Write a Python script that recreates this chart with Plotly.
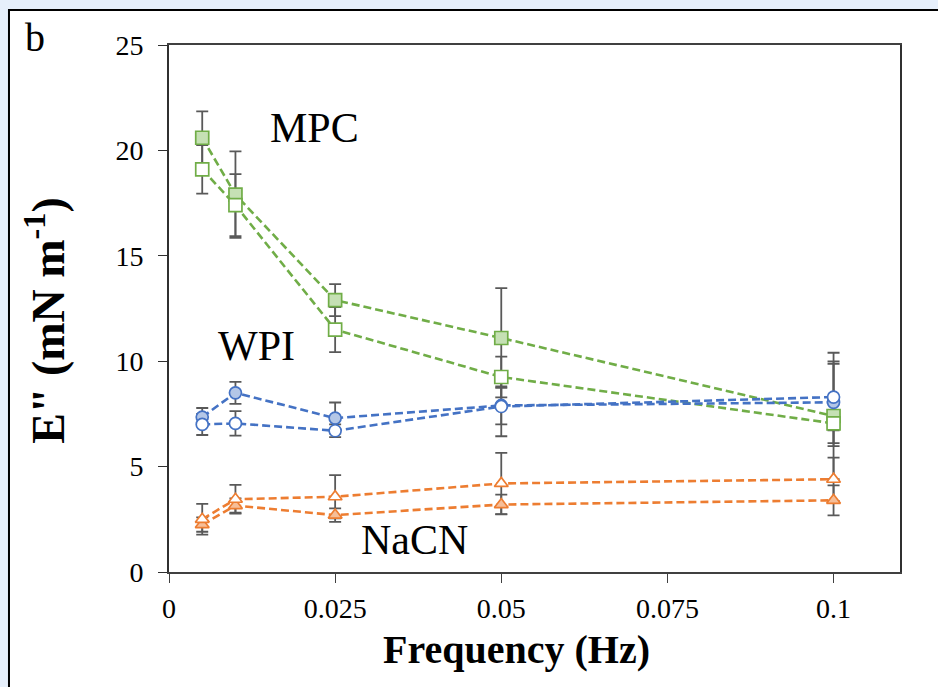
import plotly.graph_objects as go

# Oscillation frequency (Hz)
freq = [0.005, 0.01, 0.025, 0.05, 0.1]

# Loss modulus E'' (mN/m) and standard deviations, two replicates per protein
mpc_filled = [20.6, 17.9, 12.9, 11.1, 7.4]
mpc_filled_sd = [1.25, 2.05, 0.76, 2.37, 3.0]
mpc_open = [19.1, 17.4, 11.5, 9.25, 7.05]
mpc_open_sd = [1.15, 1.47, 1.07, 0.97, 1.08]

wpi_filled = [7.35, 8.5, 7.3, 7.9, 8.05]
wpi_filled_sd = [0.43, 0.52, 0.74, 0.9, 1.94]
wpi_open = [7.0, 7.05, 6.7, 7.85, 8.3]
wpi_open_sd = [0.5, 0.58, 0.3, 1.41, 1.58]

nacn_filled = [2.25, 3.15, 2.7, 3.2, 3.4]
nacn_filled_sd = [0.34, 0.34, 0.32, 0.47, 0.71]
nacn_open = [2.5, 3.45, 3.57, 4.2, 4.4]
nacn_open_sd = [0.73, 0.68, 1.03, 1.45, 1.03]

x_ticks = [0, 0.025, 0.05, 0.075, 0.1]
x_tick_text = ["0", "0.025", "0.05", "0.075", "0.1"]
y_ticks = [0, 5, 10, 15, 20, 25]

GREEN, GREEN_FILL = "#70AD47", "#C5E0B4"
BLUE, BLUE_FILL = "#4472C4", "#B4C7E7"
ORANGE, ORANGE_FILL = "#ED7D31", "#F6BE98"
ERR = "#595959"
SERIF = "Liberation Serif"

series = [
    (mpc_filled, mpc_filled_sd, GREEN, GREEN_FILL, "square", 13),
    (mpc_open, mpc_open_sd, GREEN, "white", "square", 13),
    (wpi_filled, wpi_filled_sd, BLUE, BLUE_FILL, "circle", 12),
    (wpi_open, wpi_open_sd, BLUE, "white", "circle", 12),
    (nacn_filled, nacn_filled_sd, ORANGE, ORANGE_FILL, "triangle-up", 12),
    (nacn_open, nacn_open_sd, ORANGE, "white", "triangle-up", 12),
]

fig = go.Figure()

# error bars first so every marker sits on top of them
for y, sd, *_ in series:
    fig.add_trace(go.Scatter(
        x=freq, y=y, mode="markers",
        marker=dict(size=1, color="rgba(0,0,0,0)"),
        error_y=dict(type="data", array=sd, visible=True,
                     color=ERR, thickness=1.8, width=6),
        hoverinfo="skip", showlegend=False,
    ))

for y, sd, line_col, fill_col, symbol, size in series:
    fig.add_trace(go.Scatter(
        x=freq, y=y, mode="lines+markers",
        line=dict(color=line_col, width=2.6, dash="8px,4px"),
        marker=dict(symbol=symbol, size=size, color=fill_col,
                    line=dict(color=line_col, width=1.7)),
        showlegend=False,
    ))

# white panel with black frame over the light-blue page
fig.add_shape(type="rect", xref="paper", yref="paper",
              x0=-0.2189, x1=1.3, y0=-0.4, y1=1.0664,
              fillcolor="white", line=dict(color="black", width=2),
              layer="below")

labels = [("MPC", 0.0149, 21.06), ("WPI", 0.0071, 10.72), ("NaCN", 0.0286, 1.52)]
for text, lx, ly in labels:
    fig.add_annotation(x=lx, y=ly, text=text, showarrow=False,
                       xanchor="left", yanchor="middle",
                       font=dict(family=SERIF, size=42, color="black"))

fig.add_annotation(xref="paper", yref="paper", x=-0.2, y=1.015,
                   text="b", showarrow=False, xanchor="left", yanchor="middle",
                   font=dict(family=SERIF, size=40, color="black"))

fig.add_annotation(xref="paper", yref="paper", x=-0.17, y=0.478,
                   text='<b>E" (mN m<sup>-1</sup>)</b>', textangle=-90,
                   showarrow=False, xanchor="center", yanchor="middle",
                   font=dict(family=SERIF, size=46, color="black"))

fig.add_annotation(xref="paper", yref="paper", x=0.476, y=-0.148,
                   text="<b>Frequency (Hz)</b>", showarrow=False,
                   xanchor="center", yanchor="middle",
                   font=dict(family=SERIF, size=40, color="black"))

fig.update_xaxes(range=[0, 0.11], tickvals=x_ticks, ticktext=x_tick_text,
                 showgrid=False, zeroline=False,
                 showline=True, linecolor="#404040", linewidth=2, mirror=True,
                 ticks="outside", ticklen=9, tickwidth=1.3, tickcolor="#404040",
                 ticklabelstandoff=1,
                 tickfont=dict(family=SERIF, size=28, color="black"))
fig.update_yaxes(range=[0, 25], tickvals=y_ticks,
                 showgrid=False, zeroline=False,
                 showline=True, linecolor="#303030", linewidth=2, mirror=True,
                 ticks="outside", ticklen=9, tickwidth=1.3, tickcolor="#303030",
                 ticklabelstandoff=9,
                 tickfont=dict(family=SERIF, size=28, color="black"))

fig.update_layout(
    width=938, height=687,
    margin=dict(l=169, r=38, t=45, b=115),
    paper_bgcolor="#E6EFFB", plot_bgcolor="white",
    showlegend=False,
)

fig.write_html("out.html")
